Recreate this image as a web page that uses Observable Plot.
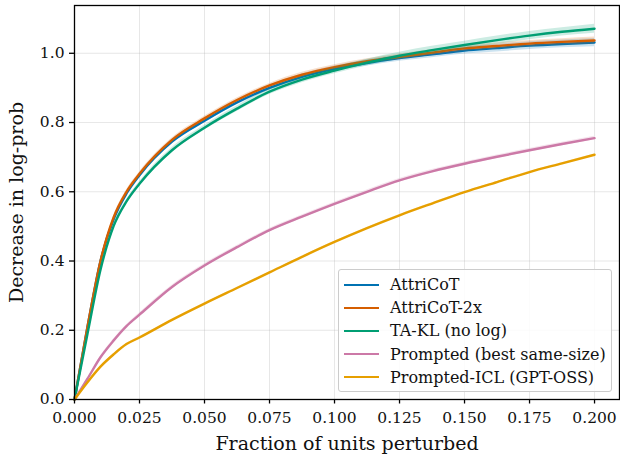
<!DOCTYPE html>
<html>
<head>
<meta charset="utf-8">
<script src="https://cdn.jsdelivr.net/npm/d3@7"></script>
<script src="https://cdn.jsdelivr.net/npm/@observablehq/plot@0.6"></script>
<style>
  body { margin: 0; background: #fff; }
  #wrap { position: relative; width: 620px; height: 458px; font-family: "DejaVu Serif", serif; }
  #legend { position: absolute; left: 338px; top: 269px; width: 274px; height: 123px;
    background: rgba(255,255,255,0.85); border: 1px solid #cccccc; border-radius: 3px;
    box-sizing: border-box; padding-top: 3px; }
  .row { height: 23.2px; display: flex; align-items: center; font-size: 16px; color: #111; }
  .sw { width: 35px; height: 0; border-top: 2.5px solid; margin-left: 5px; margin-right: 11px; }
</style>
</head>
<body>
<div id="wrap"><div id="chart"></div><div id="legend"></div></div>
<script>
const xs = [0, 0.005, 0.01, 0.015, 0.02, 0.025, 0.0375, 0.05, 0.0625, 0.075, 0.0875, 0.1, 0.1125, 0.125, 0.1375, 0.15, 0.1625, 0.175, 0.1875, 0.2];

const seriesNames = ["AttriCoT", "AttriCoT-2x", "TA-KL (no log)", "Prompted (best same-size)", "Prompted-ICL (GPT-OSS)"];
const seriesColors = ["#0072b2", "#d55e00", "#009e73", "#cc79a7", "#e69f00"];

const attriCoT     = [0, 0.21, 0.40, 0.52, 0.595, 0.648, 0.745, 0.805, 0.858, 0.900, 0.932, 0.955, 0.972, 0.986, 0.997, 1.008, 1.015, 1.022, 1.027, 1.031];
const attriCoT2x   = [0, 0.21, 0.40, 0.525, 0.600, 0.652, 0.750, 0.812, 0.865, 0.907, 0.938, 0.960, 0.977, 0.990, 1.002, 1.014, 1.021, 1.028, 1.033, 1.037];
const taKL         = [0, 0.19, 0.375, 0.50, 0.572, 0.623, 0.720, 0.785, 0.840, 0.889, 0.924, 0.950, 0.973, 0.993, 1.009, 1.024, 1.038, 1.051, 1.062, 1.071];
const prompted     = [0, 0.06, 0.122, 0.170, 0.212, 0.245, 0.325, 0.387, 0.440, 0.489, 0.528, 0.565, 0.600, 0.633, 0.659, 0.681, 0.701, 0.720, 0.738, 0.755];
const promptedICL  = [0, 0.05, 0.095, 0.130, 0.160, 0.179, 0.230, 0.277, 0.322, 0.367, 0.412, 0.455, 0.495, 0.532, 0.566, 0.599, 0.628, 0.657, 0.682, 0.707];

// half-widths of the shaded uncertainty bands
const bandAttriCoT    = [0, 0.003, 0.004, 0.005, 0.005, 0.005, 0.006, 0.006, 0.007, 0.007, 0.008, 0.008, 0.009, 0.009, 0.010, 0.010, 0.011, 0.011, 0.011, 0.012];
const bandAttriCoT2x  = [0, 0.003, 0.004, 0.004, 0.005, 0.005, 0.005, 0.006, 0.006, 0.006, 0.007, 0.007, 0.007, 0.008, 0.008, 0.008, 0.009, 0.009, 0.009, 0.010];
const bandTaKL        = [0, 0.003, 0.004, 0.005, 0.006, 0.006, 0.007, 0.007, 0.008, 0.008, 0.009, 0.009, 0.010, 0.010, 0.011, 0.011, 0.012, 0.012, 0.012, 0.013];
const bandPrompted    = [0, 0.002, 0.003, 0.004, 0.004, 0.005, 0.005, 0.005, 0.005, 0.005, 0.005, 0.005, 0.005, 0.005, 0.005, 0.005, 0.005, 0.005, 0.005, 0.005];
const bandPromptedICL = [0, 0.001, 0.002, 0.002, 0.002, 0.002, 0.002, 0.002, 0.002, 0.002, 0.002, 0.002, 0.002, 0.002, 0.002, 0.002, 0.002, 0.002, 0.002, 0.002];

const xTicks = [0, 0.025, 0.05, 0.075, 0.1, 0.125, 0.15, 0.175, 0.2];
const yTicks = [0, 0.2, 0.4, 0.6, 0.8, 1.0];

const values = [attriCoT, attriCoT2x, taKL, prompted, promptedICL];
const bands = [bandAttriCoT, bandAttriCoT2x, bandTaKL, bandPrompted, bandPromptedICL];

const marks = [
  Plot.gridX(xTicks, {stroke: "#b0b0b0", strokeOpacity: 0.3, strokeWidth: 1}),
  Plot.gridY(yTicks, {stroke: "#b0b0b0", strokeOpacity: 0.3, strokeWidth: 1})
];
seriesNames.forEach((name, i) => {
  const rows = xs.map((x, j) => ({x, y: values[i][j], lo: values[i][j] - bands[i][j], hi: values[i][j] + bands[i][j]}));
  marks.push(Plot.areaY(rows, {x: "x", y1: "lo", y2: "hi", fill: seriesColors[i], fillOpacity: 0.2, curve: "monotone-x"}));
  marks.push(Plot.lineY(rows, {x: "x", y: "y", stroke: seriesColors[i], strokeWidth: 2.4, curve: "monotone-x"}));
});
marks.push(
  Plot.axisX(xTicks, {tickSize: 4.5, tickPadding: 8, tickFormat: d3.format(".3f"), label: "Fraction of units perturbed", labelAnchor: "center", labelOffset: 50, labelArrow: "none"}),
  Plot.axisY(yTicks, {tickSize: 5, tickPadding: 5, tickFormat: d3.format(".1f"), label: "Decrease in log-prob", labelAnchor: "center", labelOffset: 65, labelArrow: "none"}),
  Plot.frame({stroke: "#000", strokeWidth: 1.3})
);

const chart = Plot.plot({
  width: 620, height: 458,
  marginLeft: 74, marginRight: 1, marginTop: 5, marginBottom: 59,
  x: {domain: [0, 0.2096]},
  y: {domain: [0, 1.138]},
  style: {fontFamily: "DejaVu Serif", fontSize: "15.5px", background: "#fff", color: "#111"},
  marks
});
document.getElementById("chart").appendChild(chart);
chart.querySelectorAll('[aria-label="x-axis label"], [aria-label="y-axis label"]').forEach(g => g.setAttribute("font-size", 19));
chart.querySelectorAll('[aria-label="x-axis tick"], [aria-label="y-axis tick"]').forEach(g => { g.setAttribute("stroke", "#000"); g.setAttribute("stroke-width", 1.3); });

const legend = document.getElementById("legend");
seriesNames.forEach((name, i) => {
  const row = document.createElement("div");
  row.className = "row";
  const sw = document.createElement("div");
  sw.className = "sw";
  sw.style.borderTopColor = seriesColors[i];
  const t = document.createElement("span");
  t.textContent = name;
  row.appendChild(sw); row.appendChild(t);
  legend.appendChild(row);
});
</script>
</body>
</html>
